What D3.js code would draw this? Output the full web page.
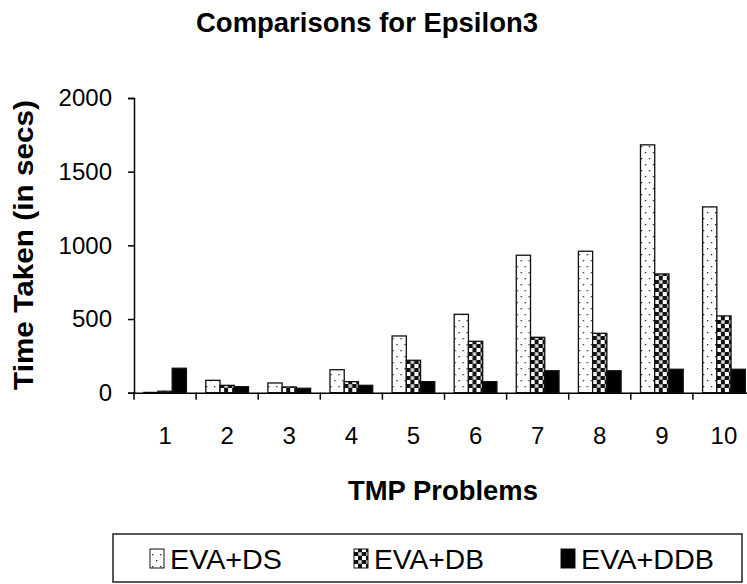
<!DOCTYPE html>
<html>
<head>
<meta charset="utf-8">
<script src="https://cdn.jsdelivr.net/npm/d3@7"></script>
<style>
  html, body { margin: 0; padding: 0; background: #fff; }
  svg { display: block; font-family: "Liberation Sans", Arial, Helvetica, sans-serif; }
</style>
</head>
<body>
<svg id="chart" width="747" height="584"></svg>
<script>
const categories = ["1", "2", "3", "4", "5", "6", "7", "8", "9", "10"];
const seriesNames = ["EVA+DS", "EVA+DB", "EVA+DDB"];
const evaDS  = [2, 84, 66, 156, 385, 532, 933, 960, 1682, 1261];
const evaDB  = [10, 50, 39, 75, 220, 349, 376, 403, 806, 521];
const evaDDB = [166, 41, 30, 50, 75, 75, 149, 149, 159, 159];
const yTicks = [0, 500, 1000, 1500, 2000];

const seriesValues = [evaDS, evaDB, evaDDB];
const data = categories.map((c, i) => ({
  cat: c,
  vals: seriesNames.map((s, j) => ({ key: s, value: seriesValues[j][i] }))
}));

const svg = d3.select("#chart");
const defs = svg.append("defs");

// dotted pattern (EVA+DS)
const pDots = defs.append("pattern").attr("id", "pDots")
  .attr("patternUnits", "userSpaceOnUse").attr("width", 8).attr("height", 12);
pDots.append("rect").attr("width", 8).attr("height", 12).attr("fill", "#fff");
pDots.append("rect").attr("x", 2).attr("y", 2).attr("width", 1.3).attr("height", 1.3).attr("fill", "#222");
pDots.append("rect").attr("x", 6).attr("y", 8).attr("width", 1.3).attr("height", 1.3).attr("fill", "#222");

// checkered pattern (EVA+DB)
const pChk = defs.append("pattern").attr("id", "pChk")
  .attr("patternUnits", "userSpaceOnUse").attr("width", 8).attr("height", 8);
pChk.append("rect").attr("width", 8).attr("height", 8).attr("fill", "#fff");
pChk.append("rect").attr("x", 0).attr("y", 0).attr("width", 4).attr("height", 4).attr("fill", "#111");
pChk.append("rect").attr("x", 4).attr("y", 4).attr("width", 4).attr("height", 4).attr("fill", "#111");
pChk.append("rect").attr("x", 4).attr("y", 0).attr("width", 4).attr("height", 4).attr("fill", "#9a9a9a");
pChk.append("rect").attr("x", 5).attr("y", 1).attr("width", 2).attr("height", 2).attr("fill", "#e0e0e0");

const fills = { "EVA+DS": "url(#pDots)", "EVA+DB": "url(#pChk)", "EVA+DDB": "#000" };

const x0 = d3.scaleBand().domain(categories).range([134, 755]).paddingInner(0).paddingOuter(0);
const x1 = d3.scaleBand().domain(seriesNames).range([0, x0.bandwidth()]).paddingInner(0).paddingOuter(0.68);
const y = d3.scaleLinear().domain([0, 2000]).range([392.7, 98]);

// title
svg.append("text").attr("x", 367).attr("y", 32).attr("text-anchor", "middle")
  .attr("font-size", 27).attr("font-weight", "bold")
  .attr("textLength", 342).attr("lengthAdjust", "spacingAndGlyphs")
  .text("Comparisons for Epsilon3");

// bars
const groups = svg.append("g").selectAll("g").data(data).join("g")
  .attr("transform", d => `translate(${x0(d.cat)},0)`);
groups.selectAll("rect").data(d => d.vals).join("rect")
  .attr("x", d => x1(d.key))
  .attr("y", d => y(d.value))
  .attr("width", x1.bandwidth())
  .attr("height", d => y(0) - y(d.value))
  .attr("fill", d => fills[d.key])
  .attr("stroke", "#111").attr("stroke-width", 1.3);

// y axis
const yAxis = svg.append("g").attr("transform", "translate(134,0)")
  .call(d3.axisLeft(y).tickValues(yTicks).tickSize(6).tickPadding(16).tickFormat(d3.format("d")));
yAxis.select(".domain").attr("stroke", "#000").attr("stroke-width", 1.5);
yAxis.selectAll(".tick line").attr("stroke", "#000").attr("stroke-width", 1.5);
yAxis.selectAll(".tick text").attr("font-size", 24).attr("fill", "#000")
  .attr("font-family", "'Liberation Sans', Arial, sans-serif");

// x axis line with boundary ticks
const xAxis = svg.append("g").attr("transform", `translate(0,${y(0)})`)
  .call(d3.axisBottom(x0).tickSize(0).tickPadding(34));
xAxis.select(".domain").attr("stroke", "#000").attr("stroke-width", 1.5);
xAxis.selectAll(".tick text").attr("font-size", 24).attr("fill", "#000")
  .attr("font-family", "'Liberation Sans', Arial, sans-serif");
xAxis.selectAll(".bound").data(categories.concat(["end"])).join("line")
  .attr("class", "bound")
  .attr("x1", (d, i) => x0.range()[0] + i * x0.step())
  .attr("x2", (d, i) => x0.range()[0] + i * x0.step())
  .attr("y1", 0).attr("y2", 7)
  .attr("stroke", "#000").attr("stroke-width", 1.5);

// axis titles
svg.append("text").attr("x", 443).attr("y", 500).attr("text-anchor", "middle")
  .attr("font-size", 28).attr("font-weight", "bold")
  .attr("textLength", 190).attr("lengthAdjust", "spacingAndGlyphs")
  .text("TMP Problems");
svg.append("text").attr("transform", "translate(33,245) rotate(-90)").attr("text-anchor", "middle")
  .attr("font-size", 27).attr("font-weight", "bold")
  .attr("textLength", 290).attr("lengthAdjust", "spacingAndGlyphs")
  .text("Time Taken (in secs)");

// legend
const legend = svg.append("g");
legend.append("rect").attr("x", 113).attr("y", 534).attr("width", 629).attr("height", 48)
  .attr("fill", "#fff").attr("stroke", "#222").attr("stroke-width", 1.5);
const legendX = [150, 354, 561];
const legendW = [112, 110, 133];
const items = legend.selectAll("g.item").data(seriesNames).join("g").attr("class", "item")
  .attr("transform", (d, i) => `translate(${legendX[i]},0)`);
items.append("rect").attr("x", 0).attr("y", 549).attr("width", 14).attr("height", 19)
  .attr("fill", d => fills[d]).attr("stroke", "#111").attr("stroke-width", 1);
items.append("text").attr("x", 20).attr("y", 569).attr("font-size", 27)
  .attr("textLength", (d, i) => legendW[i]).attr("lengthAdjust", "spacingAndGlyphs")
  .text(d => d);
</script>
</body>
</html>
